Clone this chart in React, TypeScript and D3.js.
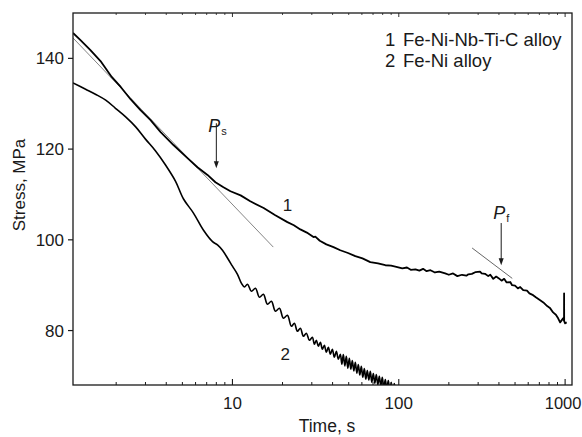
import React from 'react';
import * as d3 from 'd3';

// curve 1: Fe-Ni-Nb-Ti-C alloy
const c1Time = [
  1.1, 1.22, 1.4, 1.61, 1.88, 2.13, 2.44, 2.8, 3.22, 3.69, 4.42, 5.37, 6.16, 7.08, 7.9, 8.83, 9.73,
  11.2, 12.8, 15.4, 18.1, 21.4, 23.4, 25.6, 28.0, 30.7, 31.5, 33.5, 36.7, 40.5, 44.5, 49.5, 54.8,
  60.5, 67.4, 75, 83, 90, 98, 105, 112, 118, 126, 133, 140, 147, 155, 165, 175, 190, 200, 212, 225,
  240, 255, 262, 275, 290, 308, 315, 330, 345, 355, 370, 385, 400, 415, 430, 445, 468, 480, 500,
  520, 537, 560, 590, 610, 642, 670, 708, 740, 780, 810, 847, 880, 908, 933, 955, 973, 985, 986,
  987, 1000, 1022,
];
const c1Stress = [
  145.6, 144.0, 141.8, 139.4, 135.9, 133.7, 131.0, 128.6, 126.4, 123.8, 120.9, 118.0, 116.0, 114.3,
  112.7, 111.6, 110.7, 109.8, 108.5, 107.0, 105.4, 103.9, 103.2, 102.3, 101.6, 100.6, 100.7, 99.8,
  99.0, 98.4, 97.7, 97.1, 96.4, 95.9, 95.1, 94.8, 94.4, 94.3, 94.0, 93.7, 93.9, 93.4, 93.5, 93.2,
  93.6, 93.1, 93.3, 92.8, 93.0, 92.6, 92.3, 92.6, 92.0, 92.3, 92.1, 92.4, 92.5, 92.9, 93.0, 92.6,
  92.5, 92.0, 92.3, 91.4, 91.9, 91.5, 91.0, 91.4, 90.6, 90.7, 90.0, 89.9, 89.3, 89.6, 88.9, 88.8,
  88.2, 87.8, 87.3, 86.7, 86.2, 85.4, 85.0, 84.0, 83.5, 82.7, 81.8, 82.3, 82.7, 82.2, 88.2, 82.1,
  81.6, 81.8,
];

// curve 2: Fe-Ni alloy
const c2Time = [
  1.1, 1.31, 1.5, 1.73, 1.98, 2.28, 2.62, 3.0, 3.45, 3.96, 4.55, 5.08, 5.83, 6.7, 7.59, 8.13, 8.71,
  9.33, 10.0, 10.72, 11.33, 11.81, 12.31, 13.0, 13.75, 14.53, 15.35, 16.23, 17.15, 18.13, 19.16,
  20.25, 21.4, 22.62, 23.57, 24.57, 25.61, 26.7, 27.83, 29.01, 30.23, 31.08, 31.95, 32.85, 33.77,
  34.72, 35.69, 36.69, 37.72, 38.78, 39.87, 40.99, 42.14, 43.32, 44.53, 45.47, 46.42, 47.39, 48.39,
  49.4, 50.44, 51.5, 52.57, 53.67, 54.8, 55.95, 57.12, 58.32, 59.54, 60.79, 62.07, 63.36, 64.7,
  66.05, 67.43, 68.85, 70.29, 71.76, 73.27, 74.81, 76.37, 77.97, 79.61, 81.27, 82.98, 84.71, 86.49,
  88.3, 90.16, 92.05, 93.98, 96.61, 99.32, 102.1,
];
const c2Stress = [
  134.6, 133.2, 132.1, 130.8, 129.0, 127.1, 124.9, 122.2, 119.6, 116.5, 112.9, 109.0, 105.9, 102.1,
  99.6, 98.9, 97.7, 96.0, 94.2, 92.4, 90.4, 89.6, 90.22, 88.67, 89.33, 87.35, 88.01, 85.81, 86.47,
  84.26, 84.92, 82.72, 83.38, 80.95, 81.61, 79.85, 80.51, 78.75, 79.41, 77.86, 78.53, 76.98, 77.86,
  76.54, 77.42, 75.88, 76.76, 75.22, 76.32, 74.78, 75.88, 74.11, 75.44, 73.67, 74.78, 72.6, 74.7,
  72.2, 74.3, 71.7, 73.9, 71.5, 73.4, 71.1, 73.0, 70.6, 72.5, 70.2, 72.1, 69.7, 71.6, 69.3, 71.2,
  69.1, 71.0, 68.6, 70.5, 68.4, 70.3, 68.0, 69.9, 67.8, 69.7, 67.3, 69.2, 67.1, 69.0, 66.9, 68.6,
  66.4, 68.3, 66.2, 67.9, 66.0,
];

// tangent lines [time, stress] start and end
const tangentS = [[1.1, 144.5], [17.6, 98.4]];
const tangentF = [[276, 98.2], [481, 91.5]];

const yTicks = [80, 100, 120, 140];
const xMajor = [10, 100, 1000];
const xMinor = [2, 3, 4, 5, 6, 7, 8, 9, 20, 30, 40, 50, 60, 70, 80, 90, 200, 300, 400, 500, 600, 700, 800, 900];
const legend = ['Fe-Ni-Nb-Ti-C alloy', 'Fe-Ni alloy'];

const W = 582;
const H = 437;
const left = 73, right = 572, top = 13, bottom = 385;
const font = '"Liberation Sans", Arial, sans-serif';
const ink = '#1a1a1a';

export default function App() {
  const x = d3.scaleLog().domain([1.1, 1100]).range([left, right]);
  const y = d3.scaleLinear().domain([68, 150]).range([bottom, top]);

  const line = d3
    .line<[number, number]>()
    .x((d) => x(d[0]))
    .y((d) => y(d[1]));
  const smooth = d3
    .line<[number, number]>()
    .x((d) => x(d[0]))
    .y((d) => y(d[1]))
    .curve(d3.curveCatmullRom.alpha(0.5));

  const pts1 = c1Time.map((t, i) => [t, c1Stress[i]] as [number, number]);
  const pts2 = c2Time.map((t, i) => [t, c2Stress[i]] as [number, number]);

  const arrow = (t: number, s0: number, s1: number) => {
    const px = x(t);
    const y0 = y(s0);
    const y1 = y(s1);
    return (
      <g>
        <line x1={px} x2={px} y1={y0} y2={y1 - 5} stroke={ink} strokeWidth={1} />
        <path d={`M${px - 2.5},${y1 - 7} L${px + 2.5},${y1 - 7} L${px},${y1} Z`} fill={ink} />
      </g>
    );
  };

  return (
    <svg width={W} height={H} style={{ position: 'absolute', left: 0, top: 0, background: '#fff' }}>
      <defs>
        <clipPath id="plot">
          <rect x={left} y={top} width={right - left} height={bottom - top} />
        </clipPath>
      </defs>
      <rect width={W} height={H} fill="#fff" />

      <g clipPath="url(#plot)" fill="none">
        <path d={line(tangentS as [number, number][]) || ''} stroke="#777" strokeWidth={0.9} />
        <path d={line(tangentF as [number, number][]) || ''} stroke="#555" strokeWidth={0.9} />
        <path d={line(pts1) || ''} stroke="#000" strokeWidth={1.8} strokeLinejoin="round" />
        <path d={smooth(pts2) || ''} stroke="#000" strokeWidth={1.6} strokeLinejoin="round" />
      </g>

      {/* frame */}
      <rect x={left} y={top} width={right - left} height={bottom - top} fill="none" stroke={ink} strokeWidth={1.3} />

      {/* y axis */}
      {yTicks.map((v) => (
        <g key={v}>
          <line x1={left - 5} x2={left} y1={y(v)} y2={y(v)} stroke={ink} strokeWidth={1.2} />
          <text x={left - 9} y={y(v)} dy="0.36em" textAnchor="end" fontFamily={font} fontSize={17} fill={ink}>
            {v}
          </text>
        </g>
      ))}

      {/* x axis */}
      {xMinor.map((v) => (
        <g key={v}>
          <line x1={x(v)} x2={x(v)} y1={bottom} y2={bottom - 3} stroke={ink} strokeWidth={1} />
          <line x1={x(v)} x2={x(v)} y1={top} y2={top + 2} stroke={ink} strokeWidth={0.8} />
        </g>
      ))}
      {xMajor.map((v) => (
        <g key={v}>
          <line x1={x(v)} x2={x(v)} y1={bottom} y2={bottom - 6} stroke={ink} strokeWidth={1.1} />
          <line x1={x(v)} x2={x(v)} y1={top} y2={top + 4} stroke={ink} strokeWidth={0.9} />
          <text
            x={v === 1000 ? x(v) - 2 : x(v)}
            y={409}
            textAnchor="middle"
            fontFamily={font}
            fontSize={v === 1000 ? 16.5 : 17}
            fill={ink}
          >
            {v}
          </text>
        </g>
      ))}

      <text x={327} y={432} textAnchor="middle" fontFamily={font} fontSize={17.5} fill={ink}>
        Time, s
      </text>
      <text
        transform={`translate(25,${(top + bottom) / 2 - 14}) rotate(-90)`}
        textAnchor="middle"
        fontFamily={font}
        fontSize={17}
        fill={ink}
      >
        Stress, MPa
      </text>

      {/* legend */}
      {legend.map((name, i) => (
        <g key={name}>
          <text x={385} y={46 + i * 21} fontFamily={font} fontSize={18.5} fill={ink}>
            {i + 1}
          </text>
          <text x={403} y={46 + i * 21} fontFamily={font} fontSize={18.5} fill={ink}>
            {name}
          </text>
        </g>
      ))}

      {/* curve labels */}
      <text x={x(21.4)} y={y(106.3)} textAnchor="middle" fontFamily={font} fontSize={17} fill={ink}>
        1
      </text>
      <text x={x(20.8)} y={y(73.45)} textAnchor="middle" fontFamily={font} fontSize={17} fill={ink}>
        2
      </text>

      {/* P_s and P_f markers */}
      {arrow(8.0, 125.7, 115.8)}
      {arrow(412.8, 103.7, 94.4)}
      <text x={x(8.0) - 8} y={y(123.8)} fontFamily={font} fontSize={18} fontStyle="italic" fill={ink}>
        P<tspan fontSize={11} fontStyle="normal" dx={1} dy={3}>s</tspan>
      </text>
      <text x={x(412.8) - 8} y={y(104.7)} fontFamily={font} fontSize={18} fontStyle="italic" fill={ink}>
        P<tspan fontSize={11} fontStyle="normal" dx={1} dy={3}>f</tspan>
      </text>
    </svg>
  );
}
